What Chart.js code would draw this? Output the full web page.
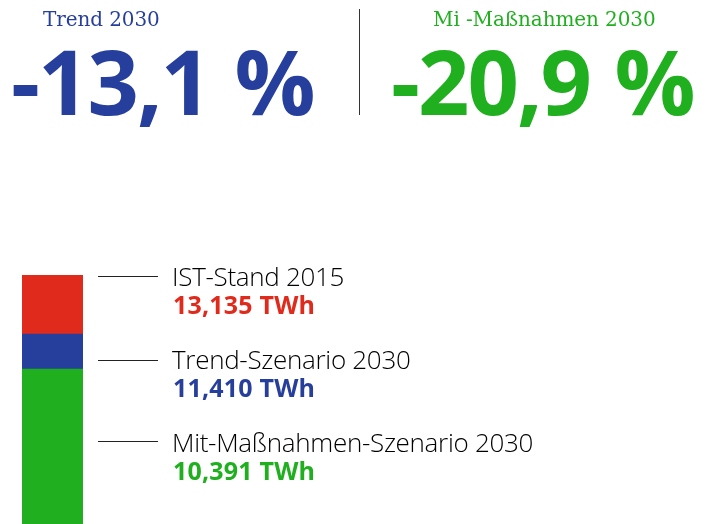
<!DOCTYPE html>
<html>
<head>
<meta charset="utf-8">
<script src="https://cdn.jsdelivr.net/npm/chart.js@4"></script>
<style>
  html, body { margin: 0; padding: 0; background: #fff; }
  #wrap { position: relative; width: 711px; height: 524px; overflow: hidden; }
  #wrap canvas { position: absolute; left: 0; top: 0; }
  .t { position: absolute; white-space: nowrap; line-height: 1; }
  .head { font-family: "DejaVu Serif", serif; font-size: 20px; letter-spacing: -0.1px; }
  .big { font-family: "Open Sans", sans-serif; font-weight: 700; font-size: 90px; letter-spacing: -2px; word-spacing: 3px; }
  .lab { font-family: "Open Sans", sans-serif; font-weight: 300; font-size: 26px; color: #000; letter-spacing: -0.3px; }
  .val { font-family: "Open Sans", sans-serif; font-weight: 700; font-size: 25px; letter-spacing: 0.2px; }
  .rule { position: absolute; height: 1px; background: #222; }
  #divider { position: absolute; left: 359px; top: 9px; width: 1px; height: 106px; background: #333; }
</style>
</head>
<body>
<div id="wrap">
  <canvas id="c" width="711" height="524"></canvas>
</div>
<script>
const blue = '#273f9c', green = '#1faf1f', red = '#e02a1c';

// values in TWh
const scenarios = ['IST-Stand 2015', 'Trend-Szenario 2030', 'Mit-Maßnahmen-Szenario 2030'];
const totals = [13.135, 11.410, 10.391];
const totalLabels = ['13,135 TWh', '11,410 TWh', '10,391 TWh'];
const colors = [red, blue, green];
const headers = ['Trend 2030', 'Mi -Maßnahmen 2030'];
const changes = ['-13,1 %', '-20,9 %'];

// stacked pieces: green = lowest, blue and red the differences
const pieces = [totals[2], totals[1] - totals[2], totals[0] - totals[1]];

new Chart(document.getElementById('c'), {
  type: 'bar',
  data: {
    labels: [''],
    datasets: [
      { data: [pieces[0]], backgroundColor: green },
      { data: [pieces[1]], backgroundColor: blue },
      { data: [pieces[2]], backgroundColor: red }
    ]
  },
  options: {
    responsive: false,
    animation: false,
    layout: { padding: { left: 22, right: 628, top: 275, bottom: 0 } },
    datasets: { bar: { barPercentage: 1, categoryPercentage: 1, borderWidth: 0 } },
    scales: {
      x: { stacked: true, display: false },
      y: { stacked: true, display: false, min: 5.87, max: 13.135 }
    },
    plugins: { legend: { display: false }, tooltip: { enabled: false } }
  }
});

const wrap = document.getElementById('wrap');
function addText(cls, txt, left, top, color) {
  const d = document.createElement('div');
  d.className = 't ' + cls;
  d.textContent = txt;
  d.style.left = left + 'px';
  d.style.top = top + 'px';
  if (color) d.style.color = color;
  wrap.appendChild(d);
  return d;
}

addText('head', headers[0], 43, 9, blue);
addText('head', headers[1], 433, 9, green);
addText('big', changes[0], 11, 35, blue);
addText('big', changes[1], 391, 35, green);
const div = document.createElement('div');
div.id = 'divider';
wrap.appendChild(div);

const lineY = [276, 360, 441];
lineY.forEach((y, i) => {
  const r = document.createElement('div');
  r.className = 'rule';
  r.style.left = '98px';
  r.style.width = '60px';
  r.style.top = y + 'px';
  wrap.appendChild(r);
  addText('lab', scenarios[i], 172, y - 13 + (i === 2 ? 1 : 0) - (i === 1 ? 1 : 0));
  addText('val', totalLabels[i], 173, y + 16 + (i === 2 ? 1 : 0) - (i === 1 ? 1 : 0), colors[i]);
});
</script>
</body>
</html>
